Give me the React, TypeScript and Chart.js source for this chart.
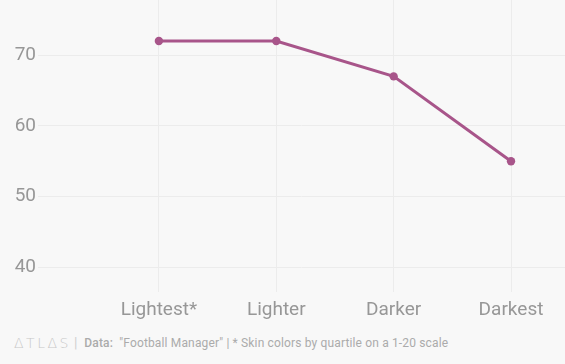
import React, { useEffect, useRef } from "react";
import { Chart, registerables } from "chart.js";

Chart.register(...registerables);

const categories = ["Lightest*", "Lighter", "Darker", "Darkest"];
const values = [72, 72, 67, 55];
const yTicks = [40, 50, 60, 70];

export default function App() {
  const ref = useRef<HTMLCanvasElement | null>(null);

  useEffect(() => {
    if (!ref.current) return;
    const chart = new Chart(ref.current, {
      type: "line",
      data: {
        datasets: [
          {
            data: values.map((v, i) => ({ x: i, y: v })),
            borderColor: "#a8558a",
            backgroundColor: "#a8558a",
            borderWidth: 3,
            pointRadius: 4.2,
            pointBorderWidth: 0,
            pointHoverRadius: 4.2,
            tension: 0,
          },
        ],
      },
      options: {
        animation: false,
        responsive: false,
        maintainAspectRatio: false,
        layout: { padding: 0, autoPadding: false },
        plugins: { legend: { display: false }, tooltip: { enabled: false } },
        scales: {
          x: {
            type: "linear",
            min: -1.03,
            max: 3.46,
            afterBuildTicks: (s: any) => {
              s.ticks = categories.map((_, i) => ({ value: i }));
            },
            afterFit: (s: any) => {
              s.height = 38;
              s.paddingLeft = 0;
              s.paddingRight = 0;
            },
            ticks: {
              callback: (v: any) => categories[v] ?? "",
              color: "#979797",
              font: { family: "Roboto", size: 19 },
              padding: 7,
              maxRotation: 0,
              autoSkip: false,
            },
            grid: { color: "#ececec", drawTicks: false },
            border: { display: false },
          },
          y: {
            type: "linear",
            min: 36.5,
            max: 77.8,
            afterBuildTicks: (s: any) => {
              s.ticks = yTicks.map((v) => ({ value: v }));
            },
            afterFit: (s: any) => {
              s.width = 38;
              s.paddingTop = 0;
              s.paddingBottom = 0;
            },
            ticks: {
              color: "#979797",
              font: { family: "Roboto", size: 19 },
              padding: 2,
            },
            grid: { color: "#ececec", drawTicks: false },
            border: { display: false },
          },
        },
      },
    });
    return () => chart.destroy();
  }, []);

  return (
    <div
      style={{
        position: "fixed",
        left: 0,
        top: 0,
        width: 565,
        height: 364,
        background: "#f8f8f8",
        overflow: "hidden",
      }}
    >
      <canvas ref={ref} width={565} height={330} style={{ display: "block" }} />
      <div
        style={{
          position: "absolute",
          left: 14,
          top: 335,
          fontFamily: "Roboto, sans-serif",
          fontSize: 12,
          color: "#ababab",
          whiteSpace: "nowrap",
          display: "flex",
          alignItems: "center",
        }}
      >
        <span
          style={{
            color: "#c8c8c8",
            fontSize: 14,
            letterSpacing: 2.5,
            fontWeight: 300,
            fontFamily: "'DejaVu Sans', sans-serif",
          }}
        >
          ΔTLΔS
        </span>
        <span style={{ color: "#d0d0d0", fontSize: 14, margin: "0 7px 0 3px" }}>|</span>
        <span style={{ letterSpacing: 0.15 }}>
          <span style={{ fontWeight: 500 }}>Data:</span> &nbsp;"Football Manager" | * Skin colors by quartile on a 1-20 scale
        </span>
      </div>
    </div>
  );
}
